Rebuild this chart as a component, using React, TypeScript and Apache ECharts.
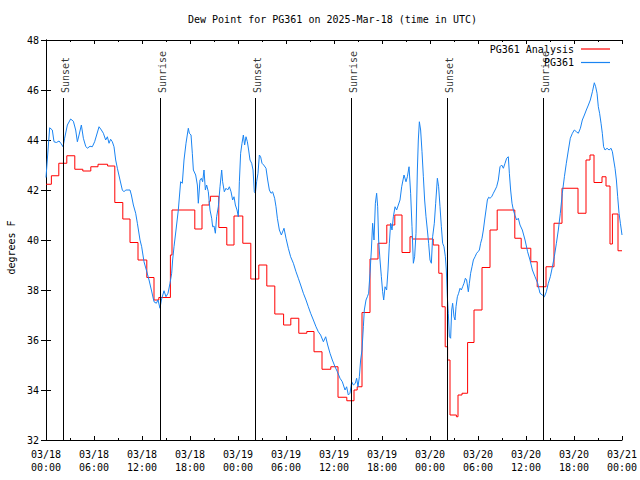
import React, { useEffect, useRef } from "react";
import * as echarts from "echarts";

const TITLE = "Dew Point for PG361 on 2025-Mar-18 (time in UTC)";
const Y_NAME = "degrees F";
const MONTH = "03";
const START_DAY = 18;

const SERIES_ANALYSIS = "PG361 Analysis";
const SERIES_OBS = "PG361";

// hours since 03/18 00:00 UTC
const analysisHours = [
  0, 0.67, 1.6, 2.6, 3.6, 4.6, 5.6, 6.5, 7.7, 8.6, 9.6, 10.5, 11.5, 12.6, 13.5, 14.1, 15.55, 15.75,
  18.6, 19.5, 20.4, 20.55, 21.6, 22.6, 23.5, 24.6, 25.6, 26.6, 27.6, 28.6, 29.7, 30.6, 31.6, 32.6,
  33.5, 34.5, 35.6, 36.5, 37.6, 38.5, 38.9, 39.5, 40.5, 41.5, 42.6, 43.6, 44.5, 45.5, 45.8, 48.4,
  49.1, 49.5, 49.9, 50.2, 50.5, 51.3, 51.5, 52.0, 52.7, 53.5, 54.5, 55.5, 56.4, 58.6, 59.4, 60.6,
  61.4, 62.5, 63.5, 64.5, 66.5, 67.5, 68.0, 68.5, 69.5, 70.0, 70.5, 70.8, 71.5, 72,
];
const analysisValues = [
  42.23, 42.57, 43.07, 43.37, 42.83, 42.76, 42.93, 43.03, 42.96, 41.5, 40.84, 39.9, 39.2, 38.5, 37.6, 37.7, 39.4, 41.2,
  40.44, 41.4, 41.55, 41.75, 40.5, 39.8, 40.96, 39.87, 38.44, 39.0, 38.16, 37.04, 36.6, 36.87, 36.27, 36.34,
  35.53, 34.83, 34.93, 33.71, 33.57, 34.0, 34.13, 37.1, 39.24, 39.87, 40.6, 41.0, 39.5, 40.13, 40.04, 39.8,
  38.67, 37.33, 35.73, 35.2, 33.0, 32.93, 33.8, 33.87, 35.9, 37.2, 38.9, 40.4, 41.2, 40.07, 39.67, 39.13,
  38.13, 38.93, 40.67, 42.07, 41.07, 43.2, 43.4, 42.3, 42.53, 42.16, 39.84, 41.04, 39.57, 39.57,
];

const obsHours = [
  0, 0.3, 0.46, 0.79, 1.0, 1.3, 1.63, 1.9, 2.13, 2.33, 2.67, 3.08, 3.42, 3.71, 3.92, 4.13, 4.42, 4.67,
  4.96, 5.17, 5.5, 5.79, 6.08, 6.33, 6.63, 6.92, 7.17, 7.46, 7.67, 7.88, 8.08, 8.29, 8.5, 8.71, 8.92, 9.25,
  9.54, 9.75, 9.96, 10.5, 10.67, 10.92, 11.21, 11.42, 11.75, 11.96, 12.25, 12.54, 12.88, 13.17, 13.5, 13.79,
  14.0, 14.25, 14.42, 14.75, 15.0, 15.25, 15.5, 15.71, 15.83, 16.0, 16.25, 16.54, 16.83, 17.04, 17.25, 17.5,
  17.79, 17.92, 18.13, 18.29, 18.42, 18.71, 18.92, 19.04, 19.25, 19.42, 19.58, 19.75, 19.92, 20.08, 20.29, 20.5,
  20.71, 20.83, 21.0, 21.17, 21.33, 21.54, 21.75, 21.96, 22.08, 22.29, 22.5, 22.71, 22.92, 23.13, 23.33, 23.5,
  23.67, 23.88, 24.04, 24.17, 24.33, 24.5, 24.67, 24.83, 25.0, 25.17, 25.33, 25.5, 25.71, 25.88, 26.04, 26.17,
  26.33, 26.5, 26.67, 26.83, 27.0, 27.21, 27.5, 27.71, 27.92, 28.13, 28.33, 28.58, 28.75, 28.92, 29.17, 29.42,
  29.75, 30.0, 30.29, 30.58, 30.92, 31.25, 31.54, 31.83, 32.17, 32.5, 32.79, 33.08, 33.42, 33.75, 34.04, 34.33,
  34.67, 34.96, 35.21, 35.5, 35.79, 36.13, 36.42, 36.75, 37.04, 37.38, 37.58, 37.79, 38.0, 38.21, 38.42, 38.67,
  38.83, 39.0, 39.17, 39.33, 39.5, 39.67, 39.79, 40.0, 40.17, 40.33, 40.5, 40.67, 40.83, 41.0, 41.17, 41.33,
  41.46, 41.58, 41.75, 41.92, 42.08, 42.21, 42.38, 42.58, 42.75, 42.92, 43.08, 43.25, 43.42, 43.63, 43.83, 44.04,
  44.25, 44.46, 44.75, 45.0, 45.17, 45.38, 45.58, 45.75, 45.92, 46.08, 46.25, 46.42, 46.54, 46.67, 46.83, 47.0,
  47.17, 47.33, 47.5, 47.67, 47.83, 48.0, 48.17, 48.33, 48.54, 48.71, 48.92, 49.08, 49.25, 49.42, 49.58, 49.75,
  49.92, 50.04, 50.17, 50.29, 50.42, 50.58, 50.71, 50.83, 51.0, 51.13, 51.25, 51.42, 51.58, 51.75, 51.92, 52.08,
  52.25, 52.42, 52.58, 52.79, 52.92, 53.08, 53.25, 53.42, 53.63, 53.83, 54.0, 54.17, 54.33, 54.5, 54.67, 54.83,
  55.0, 55.17, 55.33, 55.5, 55.71, 55.92, 56.13, 56.33, 56.54, 56.75, 56.96, 57.17, 57.38, 57.58, 57.79, 57.92,
  58.08, 58.25, 58.42, 58.63, 58.83, 59.04, 59.25, 59.54, 59.88, 60.2, 60.5, 60.8, 61.13, 61.46, 61.75, 62.04,
  62.3, 62.54, 62.79, 63.04, 63.3, 63.54, 63.8, 64.04, 64.29, 64.54, 64.8, 65.04, 65.3, 65.54, 65.8, 66.04,
  66.3, 66.54, 66.8, 67.04, 67.3, 67.54, 67.8, 68.04, 68.3, 68.54, 68.71, 68.88, 69.04, 69.2, 69.38, 69.54,
  69.7, 69.88, 70.13, 70.38, 70.63, 70.8, 70.96, 71.13, 71.3, 71.46, 71.63, 71.8, 72.0,
];
const obsValues = [
  42.5, 43.8, 44.49, 44.4, 43.93, 43.9, 43.96, 43.85, 43.73, 44.07, 44.6, 44.84, 44.75, 44.4, 43.93, 44.2, 44.6, 44.07,
  43.75, 43.67, 43.75, 43.73, 43.93, 44.2, 44.53, 44.4, 44.27, 44.0, 44.13, 43.87, 44.03, 43.93, 43.73, 43.2, 42.87, 42.4,
  42.0, 41.93, 42.0, 42.0, 41.8, 41.4, 41.07, 40.67, 40.0, 39.73, 39.13, 38.8, 38.4, 38.0, 37.53, 37.47,
  37.6, 37.27, 37.6, 37.97, 37.73, 37.87, 38.27, 38.67, 39.2, 39.73, 40.4, 41.2, 42.33, 42.27, 43.2, 43.87,
  44.47, 44.27, 44.2, 43.47, 42.8, 42.6, 42.2, 41.47, 42.4, 42.47, 42.33, 42.8, 42.0, 42.2, 41.93, 41.2,
  40.87, 40.53, 40.56, 40.27, 40.93, 41.33, 42.13, 42.8, 42.33, 41.93, 42.07, 42.0, 42.13, 41.93, 41.6, 41.73,
  41.4, 41.2, 40.93, 42.33, 43.47, 43.87, 44.2, 43.8, 44.13, 43.93, 43.6, 43.2, 43.07, 42.8, 41.93, 41.87,
  42.33, 42.67, 43.4, 43.33, 43.07, 43.0, 42.87, 42.4, 42.0, 41.87, 41.93, 41.67, 41.33, 40.87, 40.4, 40.2,
  40.47, 40.07, 39.67, 39.33, 39.07, 38.73, 38.47, 38.2, 37.87, 37.6, 37.33, 37.07, 36.8, 36.53, 36.33, 36.2,
  35.93, 36.13, 35.8, 35.47, 35.2, 34.93, 34.73, 34.47, 34.33, 34.0, 34.13, 33.8, 33.87, 34.33, 34.2, 34.27,
  34.47, 34.13, 34.53, 35.2, 35.6, 36.53, 37.2, 37.6, 37.73, 37.87, 38.67, 39.6, 40.67, 40.0, 41.47, 41.87,
  41.33, 40.0, 39.2, 38.53, 37.93, 37.6, 38.13, 38.0, 38.8, 39.87, 40.67, 40.4, 40.93, 41.33, 41.2, 41.4,
  41.6, 42.13, 42.6, 42.33, 42.53, 42.93, 41.87, 40.53, 39.07, 39.33, 40.27, 42.8, 44.0, 44.73, 44.4, 43.53,
  42.53, 41.6, 40.93, 40.4, 39.87, 39.2, 39.07, 40.13, 40.67, 41.47, 42.47, 42.13, 41.33, 40.53, 39.87, 39.73,
  39.33, 38.8, 37.73, 37.07, 36.13, 36.07, 37.2, 37.47, 36.93, 36.8, 37.33, 37.73, 37.87, 38.07, 38.0, 38.13,
  38.27, 38.47, 38.4, 37.93, 38.27, 38.67, 38.93, 39.2, 39.33, 39.47, 39.53, 39.6, 39.87, 40.07, 40.4, 40.8,
  41.2, 41.6, 41.71, 41.67, 41.73, 41.87, 42.0, 42.13, 42.4, 42.93, 43.0, 42.87, 43.07, 43.27, 43.33, 42.67,
  42.0, 41.47, 41.2, 40.97, 40.8, 40.87, 40.6, 40.4, 40.0, 39.53, 39.2, 38.8, 38.53, 38.27, 37.87, 37.8,
  37.73, 37.93, 38.27, 38.53, 38.93, 39.33, 39.87, 40.4, 41.07, 41.87, 42.53, 43.07, 43.6, 44.07, 44.27, 44.4,
  44.33, 44.27, 44.47, 44.8, 45.0, 45.2, 45.4, 45.6, 45.93, 46.29, 46.13, 45.87, 45.33, 45.07, 44.67, 44.27,
  43.73, 43.6, 43.67, 43.6, 43.67, 43.53, 43.2, 42.87, 42.4, 41.73, 41.07, 40.67, 40.2,
];

const sunEventHours = [2.17, 14.28, 26.17, 38.17, 50.17, 62.17];
const sunEventNames = ["Sunset", "Sunrise", "Sunset", "Sunrise", "Sunset", "Sunrise"];
const sunLineTop = 45.68;
const sunLabelBase = 45.88;

const X_MIN = 0;
const X_MAX = 72;
const X_STEP = 6;
const Y_MIN = 32;
const Y_MAX = 48;
const Y_STEP = 2;

const FONT = "'DejaVu Sans Mono', 'Liberation Mono', monospace";

function pad(n: number) {
  return n < 10 ? "0" + n : String(n);
}

function xLabel(v: number) {
  const day = START_DAY + Math.floor(v / 24);
  const hh = Math.round(v % 24);
  return MONTH + "/" + pad(day) + "\n" + pad(hh) + ":00";
}

export default function App() {
  const ref = useRef<HTMLDivElement>(null);

  useEffect(() => {
    if (!ref.current) return;
    const chart = echarts.init(ref.current, undefined, { renderer: "svg" });

    const analysisData = analysisHours.map((h, i) => [h, analysisValues[i]]);
    const obsData = obsHours.map((h, i) => [h, obsValues[i]]);
    const sunData = sunEventHours.map((h, i) => ({ value: [h, sunLabelBase], name: sunEventNames[i] }));
    const sunLines = sunEventHours.map((h) => [{ coord: [h, Y_MIN] }, { coord: [h, sunLineTop] }]);

    const axisLine = { show: true, lineStyle: { color: "#000", width: 1 } };
    const baseX = {
      type: "value",
      min: X_MIN,
      max: X_MAX,
      interval: X_STEP,
      axisLine,
      splitLine: { show: false },
      axisTick: { show: true, inside: true, length: 4, lineStyle: { color: "#000" } },
      minorTick: { show: true, splitNumber: 2, length: 2, lineStyle: { color: "#000" } },
    };
    const baseY = {
      type: "value",
      min: Y_MIN,
      max: Y_MAX,
      interval: Y_STEP,
      axisLine,
      splitLine: { show: false },
      axisTick: { show: true, inside: true, length: 5, lineStyle: { color: "#000" } },
    };

    const legendBase = {
      orient: "horizontal",
      align: "right",
      right: 30,
      itemWidth: 29,
      itemHeight: 1.2,
      icon: "rect",
      padding: 0,
      textStyle: { color: "#000", fontSize: 10, fontFamily: FONT, padding: [0, 2, 0, 0] },
      selectedMode: false,
    };

    chart.setOption({
      animation: false,
      backgroundColor: "#fff",
      title: {
        text: TITLE,
        left: 188,
        top: 14,
        padding: 0,
        textStyle: { color: "#000", fontSize: 10, fontWeight: "normal", fontFamily: FONT },
      },
      legend: [
        { ...legendBase, top: 44, data: [SERIES_ANALYSIS] },
        { ...legendBase, top: 57.5, data: [SERIES_OBS] },
      ],
      graphic: [
        {
          type: "text",
          x: 11,
          y: 247.5,
          rotation: Math.PI / 2,
          style: {
            text: Y_NAME,
            fill: "#000",
            fontSize: 10,
            fontFamily: FONT,
            align: "center",
            verticalAlign: "middle",
          },
        },
      ],
      grid: { left: 46, top: 40, width: 576, height: 400, containLabel: false, outerBoundsMode: "none" },
      xAxis: [
        {
          ...baseX,
          position: "bottom",
          axisLabel: {
            show: true,
            color: "#000",
            fontSize: 10,
            fontFamily: FONT,
            lineHeight: 13,
            margin: 8,
            formatter: xLabel,
          },
        },
        { ...baseX, position: "top", axisLabel: { show: false } },
      ],
      yAxis: [
        {
          ...baseY,
          position: "left",
          axisLabel: { show: true, color: "#000", fontSize: 10, fontFamily: FONT, margin: 7 },
        },
        { ...baseY, position: "right", axisLabel: { show: false } },
      ],
      series: [
        {
          name: SERIES_ANALYSIS,
          type: "line",
          step: "end",
          data: analysisData,
          symbol: "none",
          color: "#ff0000",
          lineStyle: { color: "#ff0000", width: 1 },
          z: 3,
        },
        {
          name: SERIES_OBS,
          type: "line",
          data: obsData,
          symbol: "none",
          color: "#1a84f2",
          lineStyle: { color: "#1a84f2", width: 1 },
          z: 4,
        },
        {
          name: "sun",
          type: "scatter",
          data: sunData,
          symbolSize: 0,
          silent: true,
          z: 5,
          label: {
            show: true,
            formatter: (p: any) => p.name,
            position: "inside",
            rotate: 90,
            align: "left",
            verticalAlign: "middle",
            offset: [0, 2],
            color: "#000",
            fontSize: 10,
            fontFamily: FONT,
          },
          markLine: {
            silent: true,
            symbol: ["none", "none"],
            label: { show: false },
            lineStyle: { color: "#000", width: 1, type: "solid" },
            data: sunLines,
          },
        },
      ],
    });

    return () => chart.dispose();
  }, []);

  return (
    <div
      ref={ref}
      style={{ position: "fixed", left: 0, top: 0, width: 640, height: 480, background: "#fff" }}
    />
  );
}
